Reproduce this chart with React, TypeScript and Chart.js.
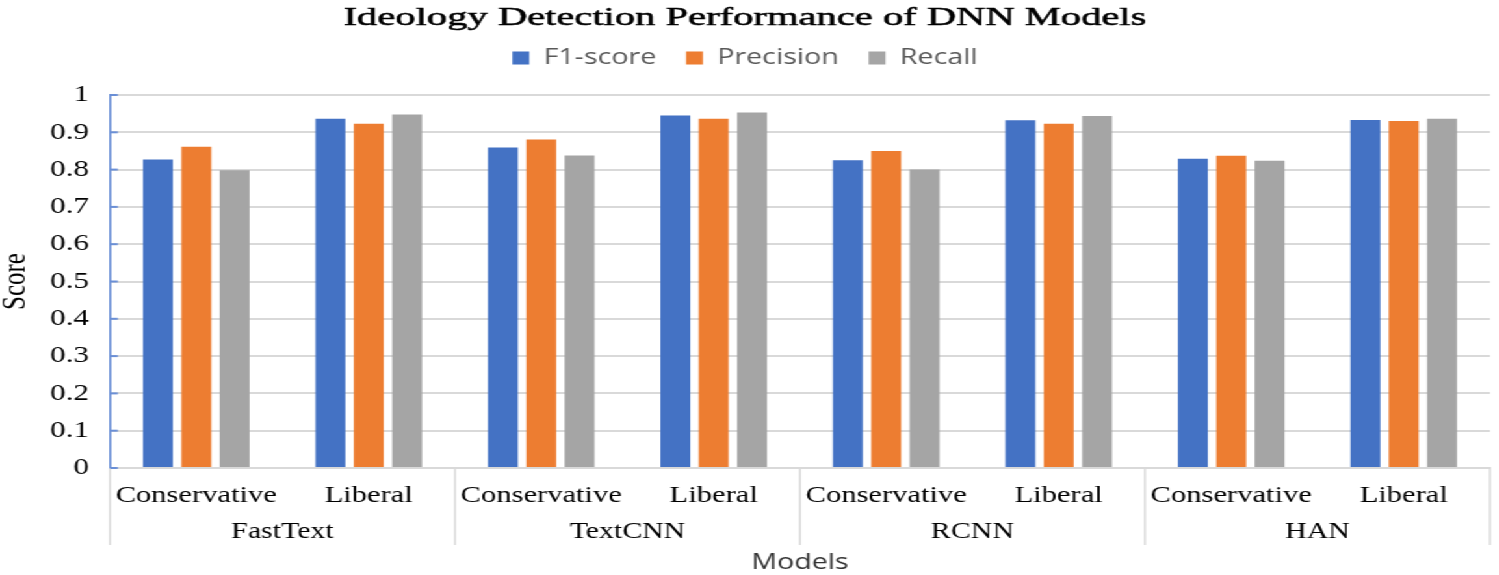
import { useEffect, useRef } from 'react';
import { Chart, registerables } from 'chart.js';

Chart.register(...registerables);

// ---- data ----
const chartTitle = 'Ideology Detection Performance of DNN Models';
const models = ['FastText', 'TextCNN', 'RCNN', 'HAN'];
const classes = ['Conservative', 'Liberal'];
const seriesNames = ['F1-score', 'Precision', 'Recall'];
const f1Score = [0.827, 0.936, 0.859, 0.945, 0.825, 0.932, 0.829, 0.933];
const precision = [0.861, 0.923, 0.881, 0.936, 0.85, 0.923, 0.837, 0.93];
const recall = [0.798, 0.948, 0.838, 0.953, 0.8, 0.944, 0.824, 0.936];
const yMin = 0;
const yMax = 1;
const yStep = 0.1;

// ---- styles ----
const seriesColors = ['#4472C4', '#ED7D31', '#A5A5A5'];
const SX = 1.3; // horizontal stretch of the whole picture
const H = 575;
const LW = 1153;
const SERIF = '"Liberation Serif", "Times New Roman", serif';
const SANS = '"Open Sans", "Noto Sans", sans-serif';
const TITLE_WIDTH = 617.7;

const xLabels = models.flatMap(() => classes);
const seriesData = [f1Score, precision, recall];

const decorPlugin = {
  id: 'decor',
  afterDraw(chart: any) {
    const { ctx, chartArea, scales } = chart;
    const x2 = scales.x2;
    const y = scales.y;

    // title (stretched serif)
    ctx.save();
    ctx.font = `26px ${SERIF}`;
    const tw = ctx.measureText(chartTitle).width;
    const k = TITLE_WIDTH / tw;
    const cx = chart.legend.left + chart.legend.width / 2;
    ctx.translate(cx, 25);
    ctx.scale(k, 1);
    ctx.textAlign = 'center';
    ctx.textBaseline = 'alphabetic';
    ctx.fillStyle = '#000';
    ctx.strokeStyle = '#000';
    ctx.lineWidth = 0.5;
    ctx.fillText(chartTitle, 0, 0);
    ctx.strokeText(chartTitle, 0, 0);
    ctx.restore();

    // group separators below the axis
    ctx.save();
    ctx.strokeStyle = '#d9d9d9';
    ctx.lineWidth = 1.5;
    for (let i = 0; i <= models.length; i++) {
      const px = x2.getPixelForValue(i - 0.5);
      ctx.beginPath();
      ctx.moveTo(px, chartArea.bottom);
      ctx.lineTo(px, x2.bottom - 30);
      ctx.stroke();
    }
    ctx.restore();

    // inward tick stubs on the y axis
    ctx.save();
    ctx.strokeStyle = '#6a8fd6';
    ctx.lineWidth = 2;
    y.ticks.forEach((t: any) => {
      const py = y.getPixelForValue(t.value);
      ctx.beginPath();
      ctx.moveTo(chartArea.left, py);
      ctx.lineTo(chartArea.left + 6, py);
      ctx.stroke();
    });
    ctx.restore();
  },
};

export default function App() {
  const ref = useRef<HTMLCanvasElement>(null);

  useEffect(() => {
    document.body.style.overflow = 'hidden';
    const chart = new Chart(ref.current as HTMLCanvasElement, {
      type: 'bar',
      data: {
        labels: xLabels,
        datasets: seriesNames.map((name, i) => ({
          label: name,
          data: seriesData[i],
          backgroundColor: seriesColors[i],
          borderWidth: 0,
          categoryPercentage: 0.667,
          barPercentage: 0.78,
          xAxisID: 'x',
          yAxisID: 'y',
        })),
      },
      options: {
        animation: false,
        responsive: true,
        maintainAspectRatio: false,
        layout: { padding: { top: 24, left: 0, right: 6.85, bottom: 0 } },
        plugins: {
          title: { display: false },
          tooltip: { enabled: false },
          legend: {
            position: 'top',
            labels: {
              font: { family: SANS, size: 22 },
              color: '#595959',
              boxWidth: 13,
              boxHeight: 13,
              padding: 23,
            },
          },
        },
        scales: {
          x: {
            type: 'category',
            position: 'bottom',
            weight: 0,
            offset: true,
            grid: { display: false },
            border: { display: true, color: '#d9d9d9', width: 2 },
            ticks: {
              font: { family: SERIF, size: 23.5 },
              color: '#000',
              padding: 6,
              maxRotation: 0,
              autoSkip: false,
            },
            afterFit: (s: any) => {
              s.height = 40;
            },
          },
          x2: {
            type: 'category',
            position: 'bottom',
            weight: 1,
            labels: models,
            offset: true,
            grid: { display: false },
            border: { display: false },
            ticks: {
              font: { family: SERIF, size: 23 },
              color: '#000',
              padding: 2,
              maxRotation: 0,
              autoSkip: false,
            },
            title: {
              display: true,
              text: 'Models',
              font: { family: SANS, size: 22 },
              color: '#333333',
              padding: { top: 0, bottom: -1 },
            },
            afterFit: (s: any) => {
              s.height = 67;
            },
          },
          xt: {
            type: 'category',
            position: 'top',
            labels: [''],
            grid: { display: false },
            border: { display: false },
            ticks: { display: false },
            afterFit: (s: any) => {
              s.height = 16;
            },
          },
          y: {
            min: yMin,
            max: yMax,
            ticks: {
              stepSize: yStep,
              font: { family: SERIF, size: 24 },
              color: '#000',
              padding: 16,
              callback: (v: any) => String(Number(Number(v).toFixed(1))),
            },
            grid: { color: '#d9d9d9', lineWidth: 2, drawTicks: false },
            border: { color: '#6a8fd6', width: 1.6 },
            title: {
              display: true,
              text: 'Score',
              font: { family: SERIF, size: 25, lineHeight: 1 },
              color: '#000',
              padding: 0,
            },
            afterFit: (s: any) => {
              s.width = 84.6;
            },
          },
        },
      } as any,
      plugins: [decorPlugin],
    });
    return () => chart.destroy();
  }, []);

  return (
    <div
      style={{
        position: 'absolute',
        left: 0,
        top: 0,
        width: LW,
        height: H,
        transform: `scaleX(${SX})`,
        transformOrigin: '0 0',
        background: '#fff',
      }}
    >
      <canvas ref={ref} />
    </div>
  );
}
